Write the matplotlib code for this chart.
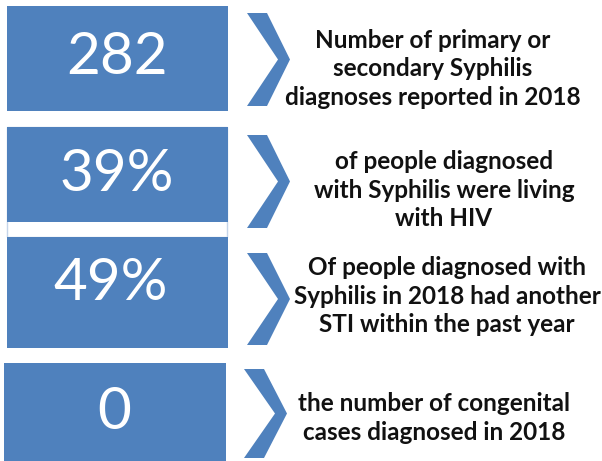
import matplotlib
matplotlib.use("Agg")
import matplotlib.pyplot as plt
from matplotlib.patches import Rectangle, Polygon

values = ["282", "39%", "49%", "0"]
descriptions = [
    "Number of primary or\nsecondary Syphilis\ndiagnoses reported in 2018",
    "of people diagnosed\nwith Syphilis were living\nwith HIV",
    "Of people diagnosed with\nSyphilis in 2018 had another\nSTI within the past year",
    "the number of congenital\ncases diagnosed in 2018",
]

# layout (pixel coordinates)
boxes = [(7, 6, 221, 105), (7, 127, 221, 95), (7, 237, 221, 111), (4, 363, 222, 98)]
num_pos = [(117, 58), (117, 174), (111, 283), (114, 412)]
chevrons = [(247, 13, 106), (247, 135, 228), (247, 253, 345), (244, 369, 458)]
desc_pos = [(433, 69), (444, 190), (447, 296), (434, 418)]

blue = "#4F81BD"
fig = plt.figure(figsize=(6.02, 4.61), dpi=100)
ax = fig.add_axes([0, 0, 1, 1])
ax.set_xlim(0, 602)
ax.set_ylim(461, 0)
ax.axis("off")

# faint outline of second box
ax.add_patch(Rectangle((7, 127), 220, 110, facecolor="none", edgecolor="#c5d5ea", lw=1))

for (x, y, w, h), v, (nx, ny) in zip(boxes, values, num_pos):
    ax.add_patch(Rectangle((x, y), w, h, facecolor=blue, edgecolor="none"))
    ax.text(nx, ny, v, color="white", fontsize=42, family="Lato",
            ha="center", va="center")

for (x0, top, bot) in chevrons:
    mid = (top + bot) / 2
    tip = x0 + 43
    pts = [(x0, top), (x0 + 20, top), (tip, mid), (x0 + 20, bot), (x0, bot), (tip - 12, mid)]
    ax.add_patch(Polygon(pts, closed=True, facecolor=blue, edgecolor="none"))

for (dx, dy), d in zip(desc_pos, descriptions):
    ax.text(dx, dy, d, color="#111111", fontsize=17.5, family="Lato", fontweight="bold",
            ha="center", va="center", linespacing=1.3)

fig.savefig("out.png", dpi=100)
